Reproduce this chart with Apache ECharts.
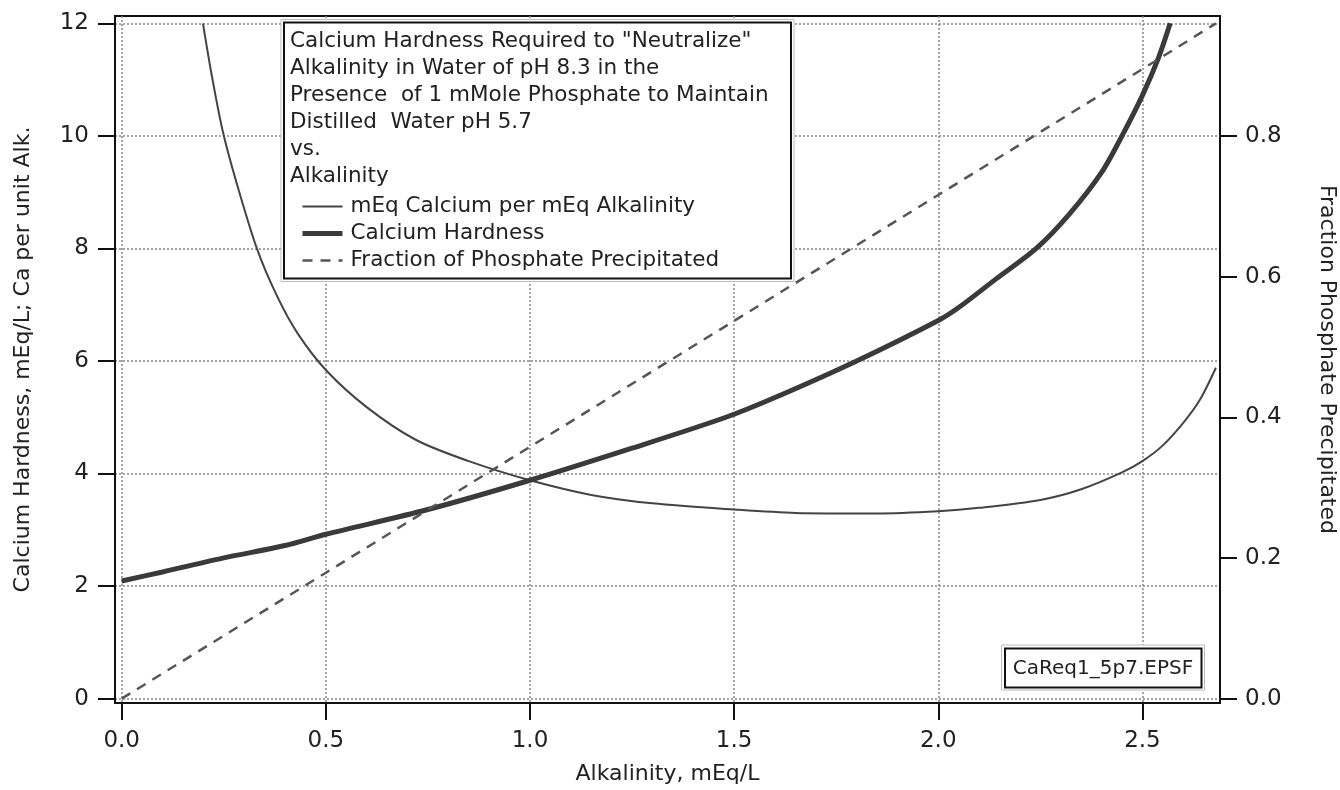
<!DOCTYPE html>
<html>
<head>
<meta charset="utf-8">
<title>Calcium Hardness vs Alkalinity</title>
<script src="https://cdn.jsdelivr.net/npm/echarts@6/dist/echarts.min.js"></script>
<style>
    html, body { margin: 0; padding: 0; background: #fff; }
    #chart { width: 1340px; height: 790px; }
</style>
</head>
<body>
<div id="chart"></div>
<script>
// tick labels
var alkTicks = [0, 0.5, 1.0, 1.5, 2.0, 2.5];
var hardTicks = [0, 2, 4, 6, 8, 10, 12];
var fracTicks = [0, 0.2, 0.4, 0.6, 0.8];

// mEq Calcium per mEq Alkalinity (thin line)
var ratioAlk = [0.199, 0.22, 0.247, 0.28, 0.331, 0.38, 0.43, 0.5, 0.6, 0.72, 0.85, 1.0, 1.15, 1.3, 1.5, 1.65, 1.85, 2.0, 2.1, 2.25, 2.35, 2.45, 2.5, 2.55, 2.6, 2.64, 2.68];
var ratioVal = [12.0, 11.1, 10.1, 9.2, 8.0, 7.16, 6.5, 5.84, 5.18, 4.6, 4.22, 3.88, 3.62, 3.47, 3.36, 3.3, 3.29, 3.33, 3.39, 3.53, 3.72, 4.02, 4.22, 4.5, 4.9, 5.3, 5.88];

// Calcium Hardness (thick line)
var hardAlk = [0, 0.1, 0.25, 0.4, 0.5, 0.75, 1.0, 1.25, 1.48, 1.6, 1.8, 2.0, 2.05, 2.14, 2.24, 2.32, 2.4, 2.45, 2.5, 2.54, 2.568];
var hardVal = [2.09, 2.25, 2.5, 2.72, 2.92, 3.36, 3.88, 4.45, 5.0, 5.35, 6.0, 6.72, 6.95, 7.45, 8.0, 8.6, 9.35, 10.0, 10.72, 11.4, 12.0];

// Fraction of Phosphate Precipitated (dashed, right axis)
var fracAlk = [0, 0.5, 1.0, 1.5, 2.0, 2.5, 2.68];
var fracVal = [0, 0.179, 0.358, 0.537, 0.716, 0.895, 0.96];

var seriesNames = ['mEq Calcium per mEq Alkalinity', 'Calcium Hardness', 'Fraction of Phosphate Precipitated'];
var titleLines = [
    'Calcium Hardness Required to "Neutralize"',
    'Alkalinity in Water of pH 8.3 in the',
    'Presence  of 1 mMole Phosphate to Maintain',
    'Distilled  Water pH 5.7',
    'vs.',
    'Alkalinity'
];
var fileTag = 'CaReq1_5p7.EPSF';

function pairs(xs, ys) {
    var out = [];
    for (var i = 0; i < xs.length; i++) {
        out.push([xs[i], ys[i]]);
    }
    return out;
}

var FONT = 'DejaVu Sans';
var TXT = '#222';
var gridDots = { color: '#888', width: 1.5, type: [2, 2] };

var myChart = echarts.init(document.getElementById('chart'));
var myOption = {
    animation: false,
    backgroundColor: '#fff',
    textStyle: { fontFamily: FONT, color: TXT },
    grid: {
        left: 115, right: 120, top: 16, bottom: 87,
        show: true,
        borderColor: '#111',
        borderWidth: 2,
        containLabel: false,
        outerBoundsMode: 'none'
    },
    legend: {
        orient: 'vertical',
        left: 295,
        top: 188,
        itemWidth: 40,
        itemHeight: 14,
        itemGap: 0,
        z: 20,
        selectedMode: false,
        // hide the symbol dot, keep the line sample
        itemStyle: { color: 'rgba(0,0,0,0)', borderColor: 'rgba(0,0,0,0)', borderWidth: 0, opacity: 0 },
        textStyle: { fontFamily: FONT, fontSize: 21.5, color: TXT, lineHeight: 27, padding: [0, 0, 0, 3] },
        data: [
            { name: seriesNames[0], lineStyle: { width: 2 } },
            { name: seriesNames[1], lineStyle: { width: 5 } },
            { name: seriesNames[2], lineStyle: { width: 2.5 } }
        ]
    },
    xAxis: {
        type: 'value',
        min: -0.0164,
        max: 2.69,
        name: 'Alkalinity, mEq/L',
        nameLocation: 'middle',
        nameGap: 60,
        nameTextStyle: { fontFamily: FONT, fontSize: 22, color: TXT },
        axisLine: { onZero: false, lineStyle: { color: '#111', width: 2 } },
        axisTick: { show: true, length: 17, lineStyle: { color: '#111', width: 2 }, customValues: alkTicks },
        axisLabel: {
            fontFamily: FONT, fontSize: 23, color: TXT, margin: 27,
            customValues: alkTicks,
            formatter: function (v) { return v.toFixed(1); }
        },
        splitLine: { show: true, lineStyle: gridDots }
    },
    yAxis: [{
        type: 'value',
        min: -0.078,
        max: 12.13,
        name: 'Calcium Hardness, mEq/L; Ca per unit Alk.',
        nameLocation: 'middle',
        nameGap: 81,
        nameTextStyle: { fontFamily: FONT, fontSize: 22, color: TXT },
        axisLine: { show: true, onZero: false, lineStyle: { color: '#111', width: 2 } },
        axisTick: { show: true, length: 17, lineStyle: { color: '#111', width: 2 }, customValues: hardTicks },
        axisLabel: {
            fontFamily: FONT, fontSize: 23, color: TXT, margin: 26,
            customValues: hardTicks,
            formatter: function (v) { return String(v); }
        },
        splitLine: { show: true, lineStyle: gridDots }
    }, {
        type: 'value',
        position: 'right',
        min: -0.0062,
        max: 0.9704,
        name: 'Fraction Phosphate Precipitated',
        nameLocation: 'middle',
        nameRotate: -90,
        nameGap: 96,
        nameTextStyle: { fontFamily: FONT, fontSize: 22, color: TXT },
        axisLine: { show: true, onZero: false, lineStyle: { color: '#111', width: 2 } },
        axisTick: { show: true, length: 17, lineStyle: { color: '#111', width: 2 }, customValues: fracTicks },
        axisLabel: {
            fontFamily: FONT, fontSize: 23, color: TXT, margin: 25,
            customValues: fracTicks,
            formatter: function (v) { return v.toFixed(1); }
        },
        splitLine: { show: false }
    }],
    series: [{
        name: seriesNames[0],
        type: 'line',
        symbol: 'none',
        smooth: 0.3,
        lineStyle: { color: '#444', width: 2 },
        itemStyle: { color: '#444' },
        data: pairs(ratioAlk, ratioVal)
    }, {
        name: seriesNames[1],
        type: 'line',
        symbol: 'none',
        smooth: 0.3,
        lineStyle: { color: '#3a3a3a', width: 5 },
        itemStyle: { color: '#3a3a3a' },
        data: pairs(hardAlk, hardVal)
    }, {
        name: seriesNames[2],
        type: 'line',
        yAxisIndex: 1,
        symbol: 'none',
        lineStyle: { color: '#555', width: 2.5, type: [10, 8] },
        itemStyle: { color: '#555' },
        data: pairs(fracAlk, fracVal)
    }],
    graphic: [
        // legend / title box
        { type: 'rect', z: 10, shape: { x: 281, y: 19.5, width: 513, height: 262 }, style: { fill: '#fff', stroke: '#bbb', lineWidth: 1 } },
        { type: 'rect', z: 11, shape: { x: 284, y: 22.5, width: 507, height: 256 }, style: { fill: 'none', stroke: '#111', lineWidth: 2 } },
        { type: 'text', z: 12, left: 290, top: 28, style: { text: titleLines.join('\n'), font: '21.5px "DejaVu Sans"', fill: TXT, lineHeight: 27 } },
        // file tag box
        { type: 'rect', z: 10, shape: { x: 1001.5, y: 645, width: 203, height: 45 }, style: { fill: '#fff', stroke: '#bbb', lineWidth: 1 } },
        { type: 'rect', z: 11, shape: { x: 1005, y: 648.5, width: 196.5, height: 39 }, style: { fill: 'none', stroke: '#111', lineWidth: 2 } },
        { type: 'text', z: 12, x: 1103, y: 669, style: { text: fileTag, font: '20px "DejaVu Sans"', fill: TXT, align: 'center', verticalAlign: 'middle' } }
    ]
};
myChart.setOption(myOption);

window.onresize = function () {
    myChart.resize();
};
</script>
</body>
</html>
